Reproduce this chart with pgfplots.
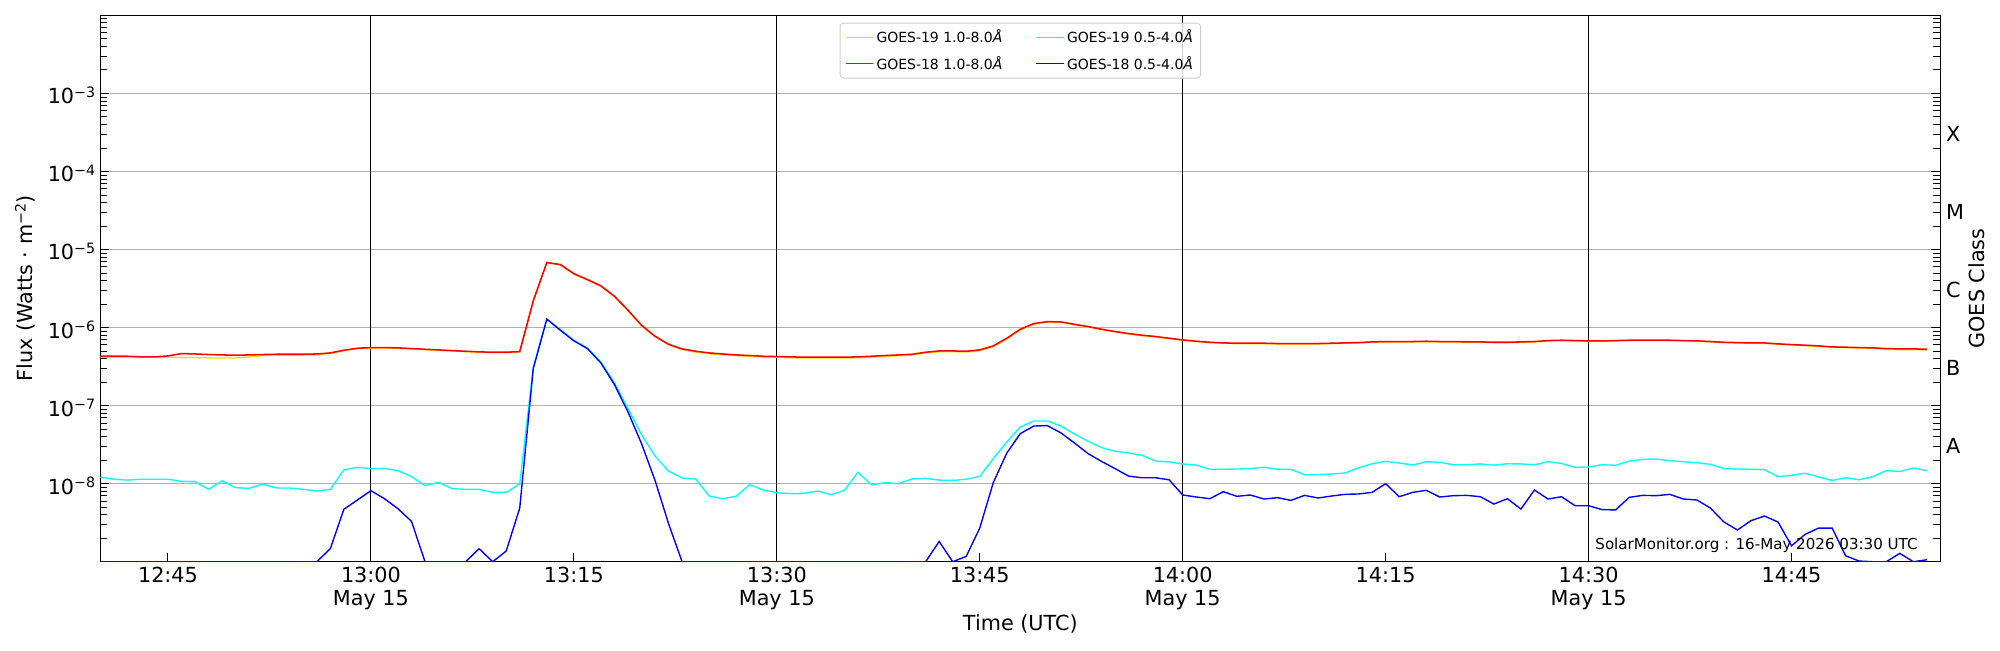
\documentclass[border=0pt]{standalone}
\usepackage{pgfplots}
\pgfplotsset{compat=1.18}
\usepackage{pgfplotstable}
\usepackage{fontspec}
\setmainfont{DejaVu Sans}
\definecolor{goesgold}{RGB}{255,215,0}
\definecolor{goescyan}{RGB}{0,255,255}
\definecolor{goesblue}{RGB}{0,0,255}
\definecolor{goesred}{RGB}{255,0,0}
\definecolor{gridgray}{RGB}{176,176,176}
\newcommand{\supx}[1]{\raisebox{0.32em}{\fontsize{10.3}{12}\selectfont #1}}
\newcommand{\tdec}[1]{10\supx{−#1}}

\pgfplotstableread{
t g19l g19s g18l g18s
40 4.21e-7 1.21e-8 4.29e-7 1e-9
41 4.21e-7 1.14e-8 4.29e-7 1e-9
42 4.21e-7 1.11e-8 4.29e-7 1e-9
43 4.17e-7 1.14e-8 4.21e-7 1e-9
44 4.17e-7 1.14e-8 4.21e-7 1e-9
45 4.17e-7 1.14e-8 4.33e-7 1e-9
46 4.13e-7 1.07e-8 4.64e-7 1e-9
47 4.13e-7 1.06e-8 4.59e-7 1e-9
48 4.08e-7 8.46e-9 4.51e-7 1e-9
49 4.08e-7 1.09e-8 4.46e-7 1e-9
50 4.08e-7 8.89e-9 4.42e-7 1e-9
51 4.21e-7 8.71e-9 4.46e-7 1e-9
52 4.38e-7 9.90e-9 4.51e-7 1e-9
53 4.46e-7 8.80e-9 4.55e-7 1e-9
54 4.46e-7 8.80e-9 4.55e-7 1e-9
55 4.46e-7 8.46e-9 4.55e-7 1e-9
56 4.46e-7 8.05e-9 4.59e-7 1e-9
57 4.64e-7 8.46e-9 4.73e-7 1.47e-9
58 5.04e-7 1.50e-8 5.12e-7 4.69e-9
59 5.35e-7 1.62e-8 5.43e-7 6.18e-9
60 5.46e-7 1.56e-8 5.54e-7 8.13e-9
61 5.46e-7 1.57e-8 5.54e-7 6.42e-9
62 5.41e-7 1.47e-8 5.49e-7 4.78e-9
63 5.30e-7 1.23e-8 5.38e-7 3.29e-9
64 5.19e-7 9.43e-9 5.27e-7 1e-9
65 5.09e-7 1.04e-8 5.17e-7 1e-9
66 4.99e-7 8.63e-9 5.07e-7 1e-9
67 4.90e-7 8.46e-9 4.97e-7 1e-9
68 4.81e-7 8.46e-9 4.88e-7 1.47e-9
69 4.76e-7 7.74e-9 4.83e-7 1e-9
70 4.76e-7 7.74e-9 4.83e-7 1.37e-9
71 4.85e-7 9.90e-9 4.92e-7 4.88e-9
72 2.17e-6 3.10e-7 2.20e-6 2.98e-7
73 6.71e-6 1.29e-6 6.81e-6 1.28e-6
74 6.32e-6 9.43e-7 6.42e-6 9.25e-7
75 4.83e-6 6.88e-7 4.90e-6 6.75e-7
76 4.06e-6 5.45e-7 4.12e-6 5.38e-7
77 3.37e-6 3.60e-7 3.42e-6 3.52e-7
78 2.48e-6 1.95e-7 2.52e-6 1.86e-7
79 1.64e-6 9.15e-8 1.67e-6 8.30e-8
80 1.05e-6 4.25e-8 1.07e-6 3.26e-8
81 7.62e-7 2.26e-8 7.74e-7 1.10e-8
82 6.02e-7 1.45e-8 6.11e-7 3.07e-9
83 5.20e-7 1.18e-8 5.33e-7 1e-9
84 4.85e-7 1.15e-8 4.97e-7 1e-9
85 4.61e-7 6.95e-9 4.73e-7 1e-9
86 4.48e-7 6.42e-9 4.59e-7 1e-9
87 4.35e-7 6.89e-9 4.46e-7 1e-9
88 4.27e-7 9.71e-9 4.38e-7 1e-9
89 4.18e-7 8.30e-9 4.29e-7 1e-9
90 4.14e-7 7.67e-9 4.25e-7 1e-9
91 4.10e-7 7.45e-9 4.21e-7 1e-9
92 4.07e-7 7.52e-9 4.17e-7 1e-9
93 4.07e-7 8.05e-9 4.17e-7 1e-9
94 4.07e-7 7.23e-9 4.17e-7 1e-9
95 4.07e-7 8.22e-9 4.17e-7 1e-9
96 4.10e-7 1.40e-8 4.21e-7 1e-9
97 4.18e-7 9.62e-9 4.29e-7 1e-9
98 4.27e-7 1.03e-8 4.38e-7 1e-9
99 4.35e-7 1.00e-8 4.46e-7 1e-9
100 4.44e-7 1.15e-8 4.55e-7 1e-9
101 4.71e-7 1.17e-8 4.83e-7 1e-9
102 4.90e-7 1.11e-8 5.02e-7 1.82e-9
103 4.90e-7 1.10e-8 5.02e-7 1e-9
104 4.85e-7 1.14e-8 4.97e-7 1.17e-9
105 5.04e-7 1.24e-8 5.17e-7 2.70e-9
106 5.70e-7 2.09e-8 5.82e-7 1.03e-8
107 7.15e-7 3.42e-8 7.30e-7 2.47e-8
108 9.33e-7 5.32e-8 9.52e-7 4.38e-8
109 1.10e-6 6.36e-8 1.125e-6 5.48e-8
110 1.17e-6 6.36e-8 1.19e-6 5.54e-8
111 1.16e-6 5.48e-8 1.18e-6 4.47e-8
112 1.08e-6 4.33e-8 1.10e-6 3.32e-8
113 1.01e-6 3.49e-8 1.03e-6 2.43e-8
114 9.38e-7 2.90e-8 9.52e-7 1.93e-8
115 8.76e-7 2.60e-8 8.89e-7 1.56e-8
116 8.25e-7 2.47e-8 8.38e-7 1.25e-8
117 7.86e-7 2.31e-8 7.98e-7 1.19e-8
118 7.55e-7 1.95e-8 7.67e-7 1.19e-8
119 7.19e-7 1.90e-8 7.30e-7 1.12e-8
120 6.85e-7 1.79e-8 6.95e-7 7.16e-9
121 6.58e-7 1.73e-8 6.68e-7 6.75e-9
122 6.38e-7 1.53e-8 6.48e-7 6.42e-9
123 6.26e-7 1.53e-8 6.36e-7 7.89e-9
124 6.21e-7 1.54e-8 6.30e-7 6.89e-9
125 6.21e-7 1.56e-8 6.30e-7 7.16e-9
126 6.21e-7 1.62e-8 6.30e-7 6.36e-9
127 6.15e-7 1.53e-8 6.24e-7 6.62e-9
128 6.15e-7 1.53e-8 6.24e-7 6.11e-9
129 6.15e-7 1.30e-8 6.24e-7 7.08e-9
130 6.15e-7 1.31e-8 6.24e-7 6.55e-9
131 6.21e-7 1.33e-8 6.30e-7 6.95e-9
132 6.26e-7 1.37e-8 6.36e-7 7.30e-9
133 6.32e-7 1.60e-8 6.42e-7 7.38e-9
134 6.45e-7 1.80e-8 6.55e-7 7.74e-9
135 6.52e-7 1.93e-8 6.62e-7 1.00e-8
136 6.52e-7 1.84e-8 6.62e-7 6.81e-9
137 6.52e-7 1.73e-8 6.62e-7 7.74e-9
138 6.58e-7 1.91e-8 6.68e-7 8.22e-9
139 6.52e-7 1.88e-8 6.62e-7 6.75e-9
140 6.52e-7 1.75e-8 6.62e-7 7.02e-9
141 6.45e-7 1.75e-8 6.55e-7 7.08e-9
142 6.45e-7 1.79e-8 6.55e-7 6.81e-9
143 6.38e-7 1.73e-8 6.48e-7 5.48e-9
144 6.38e-7 1.80e-8 6.48e-7 6.42e-9
145 6.45e-7 1.79e-8 6.55e-7 4.73e-9
146 6.52e-7 1.75e-8 6.62e-7 8.30e-9
147 6.71e-7 1.91e-8 6.81e-7 6.36e-9
148 6.78e-7 1.82e-8 6.88e-7 6.81e-9
149 6.71e-7 1.62e-8 6.81e-7 5.22e-9
150 6.65e-7 1.64e-8 6.75e-7 5.22e-9
151 6.65e-7 1.75e-8 6.75e-7 4.65e-9
152 6.71e-7 1.72e-8 6.81e-7 4.61e-9
153 6.78e-7 1.95e-8 6.88e-7 6.68e-9
154 6.78e-7 2.05e-8 6.88e-7 7.08e-9
155 6.78e-7 2.07e-8 6.88e-7 7.02e-9
156 6.78e-7 1.97e-8 6.88e-7 7.30e-9
157 6.71e-7 1.91e-8 6.81e-7 6.36e-9
158 6.65e-7 1.86e-8 6.75e-7 6.18e-9
159 6.52e-7 1.77e-8 6.62e-7 4.88e-9
160 6.38e-7 1.56e-8 6.48e-7 3.23e-9
161 6.32e-7 1.54e-8 6.42e-7 2.55e-9
162 6.26e-7 1.53e-8 6.36e-7 3.36e-9
163 6.26e-7 1.51e-8 6.36e-7 3.85e-9
164 6.09e-7 1.23e-8 6.18e-7 3.23e-9
165 5.96e-7 1.28e-8 6.05e-7 1.60e-9
166 5.85e-7 1.36e-8 5.94e-7 2.24e-9
167 5.73e-7 1.22e-8 5.82e-7 2.70e-9
168 5.57e-7 1.10e-8 5.65e-7 2.70e-9
169 5.52e-7 1.19e-8 5.60e-7 1.19e-9
170 5.46e-7 1.12e-8 5.54e-7 1.02e-9
171 5.41e-7 1.23e-8 5.49e-7 1e-9
172 5.25e-7 1.47e-8 5.38e-7 1e-9
173 5.20e-7 1.43e-8 5.33e-7 1.28e-9
174 5.20e-7 1.59e-8 5.33e-7 1e-9
175 5.14e-7 1.47e-8 5.27e-7 1.06e-9
}\goes

\begin{document}
\begin{tikzpicture}
\begin{axis}[
  scale only axis, width=1329.8pt, height=394.9pt,
  xmin=40, xmax=176, ymin=1e-9, ymax=1e-2, ymode=log,
  axis line style={line width=0.9pt},
  tick align=inside,
  xtick={45,60,75,90,105,120,135,150,165},
  xticklabels={12:45, 13:00\\May 15, 13:15, 13:30\\May 15, 13:45, 14:00\\May 15, 14:15, 14:30\\May 15, 14:45},
  xtick pos=bottom,
  ytick={1e-8,1e-7,1e-6,1e-5,1e-4,1e-3},
  yticklabels={\tdec{8},\tdec{7},\tdec{6},\tdec{5},\tdec{4},\tdec{3}},
  minor ytick={2e-9,3e-9,4e-9,5e-9,6e-9,7e-9,8e-9,9e-9,
    2e-8,3e-8,4e-8,5e-8,6e-8,7e-8,8e-8,9e-8,
    2e-7,3e-7,4e-7,5e-7,6e-7,7e-7,8e-7,9e-7,
    2e-6,3e-6,4e-6,5e-6,6e-6,7e-6,8e-6,9e-6,
    2e-5,3e-5,4e-5,5e-5,6e-5,7e-5,8e-5,9e-5,
    2e-4,3e-4,4e-4,5e-4,6e-4,7e-4,8e-4,9e-4,
    2e-3,3e-3,4e-3,5e-3,6e-3,7e-3,8e-3,9e-3},
  ytick pos=both, yticklabel pos=left,
  major tick length=6.5pt, minor tick length=5pt,
  tick style={black, line width=0.7pt},
  minor tick style={line width=0.6pt},
  ymajorgrids, xmajorgrids=false,
  major grid style={gridgray, line width=0.75pt},
  extra x ticks={60,90,120,150}, extra x tick labels={},
  extra x tick style={grid=major, major grid style={black, line width=0.75pt}},
  xticklabel style={font=\fontsize{15}{16.85}\selectfont, align=center, inner sep=3.6pt},
  yticklabel style={font=\fontsize{15}{18}\selectfont, inner sep=3.5pt, yshift=-1.5pt},
  xlabel={Time (UTC)},
  ylabel={Flux (Watts · m\supx{−2})},
  label style={font=\fontsize{15}{18}\selectfont},
  xlabel style={at={(axis description cs:0.5,-0.1264)}, anchor=base},
  ylabel style={at={(axis description cs:-0.03694,0.5)}, anchor=base},
  legend columns=2,
  legend cell align=left,
  legend image code/.code={\draw[#1, line width=0.8pt] (0pt,0pt) -- (20pt,0pt);},
  legend style={at={(axis description cs:0.5,0.9865)}, anchor=north,
    font=\fontsize{10.1}{12}\selectfont, draw=black!20, fill=white,
    fill opacity=0.8, text opacity=1, rounded corners=2.5pt,
    inner xsep=3.5pt, inner ysep=3pt, row sep=4pt, line width=0.6pt,
    /tikz/every even column/.append style={column sep=22pt}},
]
\addplot[goesgold, line width=0.9pt] table[x=t, y=g19l]{\goes};
\addlegendentry{GOES-19 1.0-8.0\textit{Å}}
\addplot[goescyan, line width=1pt] table[x=t, y=g19s]{\goes};
\addlegendentry{GOES-19 0.5-4.0\textit{Å}}
\addplot[goesred, line width=1.1pt] table[x=t, y=g18l]{\goes};
\addlegendentry{GOES-18 1.0-8.0\textit{Å}}
\addplot[goesblue, line width=1pt] table[x=t, y=g18s]{\goes};
\addlegendentry{GOES-18 0.5-4.0\textit{Å}}
\node[anchor=base east, inner sep=0pt, font=\fontsize{10.9}{13}\selectfont]
  at (rel axis cs:0.98774,0.02279) {SolarMonitor.org : 16-May 2026 03:30 UTC};
\end{axis}
\begin{axis}[
  scale only axis, width=1329.8pt, height=394.9pt,
  xmin=40, xmax=176, ymin=1e-9, ymax=1e-2, ymode=log,
  hide x axis,
  axis y line*=right,
  axis line style={line width=0.9pt},
  ytick={3e-8,3e-7,3e-6,3e-5,3e-4},
  yticklabels={A,B,C,M,X},
  yminorticks=false,
  ytick style={draw=none},
  yticklabel style={font=\fontsize{15}{18}\selectfont, inner sep=4pt},
  ylabel={GOES Class},
  ylabel style={font=\fontsize{15}{18}\selectfont, at={(axis description cs:1.02376,0.5)}, anchor=base},
]
\end{axis}
\pgfresetboundingbox
\path ([shift={(-72.5pt,-63.8pt)}]current axis.south west) rectangle ([shift={(43.1pt,11.06pt)}]current axis.north east);
\end{tikzpicture}
\end{document}
